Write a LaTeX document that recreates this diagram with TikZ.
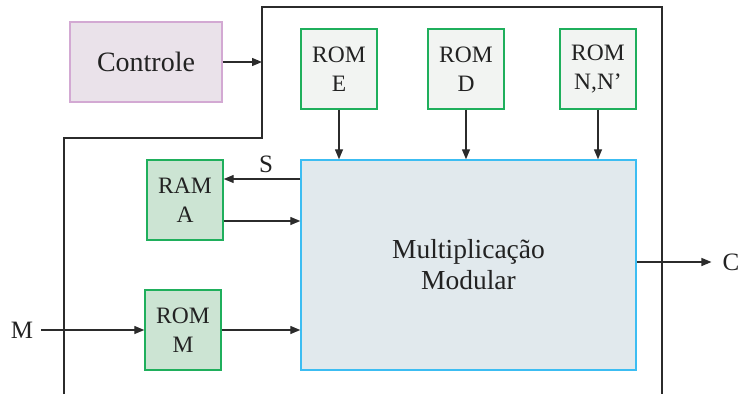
\documentclass[tikz,border=0pt]{standalone}
\usepackage{fontspec}
\setmainfont{Liberation Serif}
\usetikzlibrary{arrows.meta}

\definecolor{ink}{HTML}{222222}
\definecolor{wire}{HTML}{2B2B2B}
\definecolor{ctrlfill}{HTML}{EAE2EA}
\definecolor{ctrldraw}{HTML}{D3A9D3}
\definecolor{romfill}{HTML}{F2F4F2}
\definecolor{memdraw}{HTML}{1FAF5C}
\definecolor{ramfill}{HTML}{CCE4D3}
\definecolor{multfill}{HTML}{E1E9ED}
\definecolor{multdraw}{HTML}{3CBDF2}

\tikzset{
  every node/.style={text=ink, inner sep=0pt},
  boxbase/.style={rectangle, line width=1.4pt, align=center,
    font=\fontsize{23.5}{29}\selectfont},
  ctrlbox/.style={boxbase, fill=ctrlfill, draw=ctrldraw,
    minimum width=152pt, minimum height=80pt,
    font=\fontsize{28}{32}\selectfont},
  rombox/.style={boxbase, fill=romfill, draw=memdraw,
    minimum width=76pt, minimum height=80pt},
  rambox/.style={boxbase, fill=ramfill, draw=memdraw,
    minimum width=76pt, minimum height=80pt},
  multbox/.style={boxbase, fill=multfill, draw=multdraw,
    minimum width=335pt, minimum height=210pt,
    font=\fontsize{27.5}{31}\selectfont},
  lbl/.style={font=\fontsize{25}{28}\selectfont},
  arr/.style={draw=wire, line width=1.3pt,
    -{Triangle[length=10pt,width=8pt]}},
  frame/.style={draw=wire, line width=1.3pt},
}

\begin{document}
\begin{tikzpicture}[x=1pt, y=-1pt]
  \useasboundingbox (0,0) rectangle (739,394);

  % outline of the chip boundary
  \draw[frame] (64,394) -- (64,138) -- (262,138) -- (262,7)
               -- (662,7) -- (662,394);

  % blocks
  \node[ctrlbox] (ctrl) at (146,62) {Controle};
  \node[rombox]  (romE) at (339,69) {ROM\\E};
  \node[rombox]  (romD) at (466,69) {ROM\\D};
  \node[rombox]  (romN) at (598,69) {ROM\\N,N’};
  \node[multbox] (mult) at (468.5,265) {Multiplicação\\Modular};
  \node[rambox]  (ramA) at (185,200) {RAM\\A};
  \node[rambox]  (romM) at (183,330) {ROM\\M};

  % terminals
  \node[lbl] (inM)  at (22,330) {M};
  \node[lbl] (outC) at (731,262) {C};
  \coordinate (ctrlIn) at (262,62);

  % connectors
  \draw[arr] (ctrl.east) -- (ctrlIn);
  \draw[arr] (romE.south) -- (romE.south |- mult.north);
  \draw[arr] (romD.south) -- (romD.south |- mult.north);
  \draw[arr] (romN.south) -- (romN.south |- mult.north);

  \coordinate (sEnd) at ([yshift=21pt]ramA.east);
  \coordinate (aOut) at ([yshift=-21pt]ramA.east);
  \draw[arr] (sEnd -| mult.west) -- node[lbl, above=6pt, xshift=4pt] (lblS) {S} (sEnd);
  \draw[arr] (aOut) -- (aOut -| mult.west);

  \draw[arr] (inM.east) ++(8pt,0) -- (romM.west);
  \draw[arr] (romM.east) -- (romM.east -| mult.west);

  \coordinate (cOut) at (mult.east |- outC.west);
  \draw[arr] (cOut) -- ([xshift=-11pt]outC.west);
\end{tikzpicture}
\end{document}
